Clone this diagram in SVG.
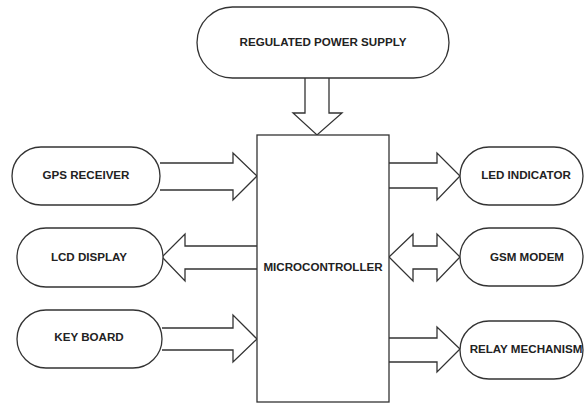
<svg xmlns="http://www.w3.org/2000/svg" width="584" height="404" viewBox="0 0 584 404">
<style>
.shape{fill:#fff;stroke:#333;stroke-width:1.3}
.arr{fill:#fff;stroke:#333;stroke-width:1.3;stroke-linejoin:miter}
.lbl{font-family:"Liberation Sans",Arial,sans-serif;font-weight:bold;font-size:11.6px;fill:#222;text-anchor:middle}
</style>
<rect width="584" height="404" fill="#fff"/>
<g id="connectors">
<path class="arr" d="M305,78 L305,113 L293,113 L317,135 L342,113 L329,113 L329,78"/>
<path class="arr" d="M160,163 L233,163 L233,153 L257,176 L233,200 L233,190 L160,190"/>
<path class="arr" d="M257,246 L185,246 L185,234 L162,257 L185,281 L185,269 L257,269"/>
<path class="arr" d="M162,328 L233,328 L233,315 L257,339 L233,362 L233,350 L162,350"/>
<path class="arr" d="M389,163 L437,163 L437,153 L460,176 L437,200 L437,188 L389,188"/>
<path class="arr" d="M389,257 L413,234 L413,246 L437,246 L437,234 L460,257 L437,281 L437,269 L413,269 L413,281 Z"/>
<path class="arr" d="M389,338 L437,338 L437,327 L460,349 L437,372 L437,362 L389,362"/>
</g>
<g id="psu"><rect class="shape" x="197" y="7" width="252" height="71" rx="35.5"/><text class="lbl" x="323" y="46">REGULATED POWER SUPPLY</text></g>
<g id="mcu"><rect class="shape" x="257" y="135" width="132" height="267"/><text class="lbl" x="323" y="271">MICROCONTROLLER</text></g>
<g id="gps"><rect class="shape" x="12" y="147" width="148" height="58" rx="29"/><text class="lbl" x="86" y="179">GPS RECEIVER</text></g>
<g id="lcd"><rect class="shape" x="17" y="228" width="146" height="59" rx="29"/><text class="lbl" x="89" y="261">LCD DISPLAY</text></g>
<g id="kb"><rect class="shape" x="17" y="310" width="145" height="58" rx="29"/><text class="lbl" x="89" y="341">KEY BOARD</text></g>
<g id="led"><rect class="shape" x="460" y="147" width="123" height="58" rx="29"/><text class="lbl" x="526" y="179">LED INDICATOR</text></g>
<g id="gsm"><rect class="shape" x="460" y="228" width="123" height="58" rx="29"/><text class="lbl" x="527" y="261">GSM MODEM</text></g>
<g id="relay"><rect class="shape" x="460" y="321" width="123" height="58" rx="29"/><text class="lbl" x="526" y="353">RELAY MECHANISM</text></g>
</svg>
